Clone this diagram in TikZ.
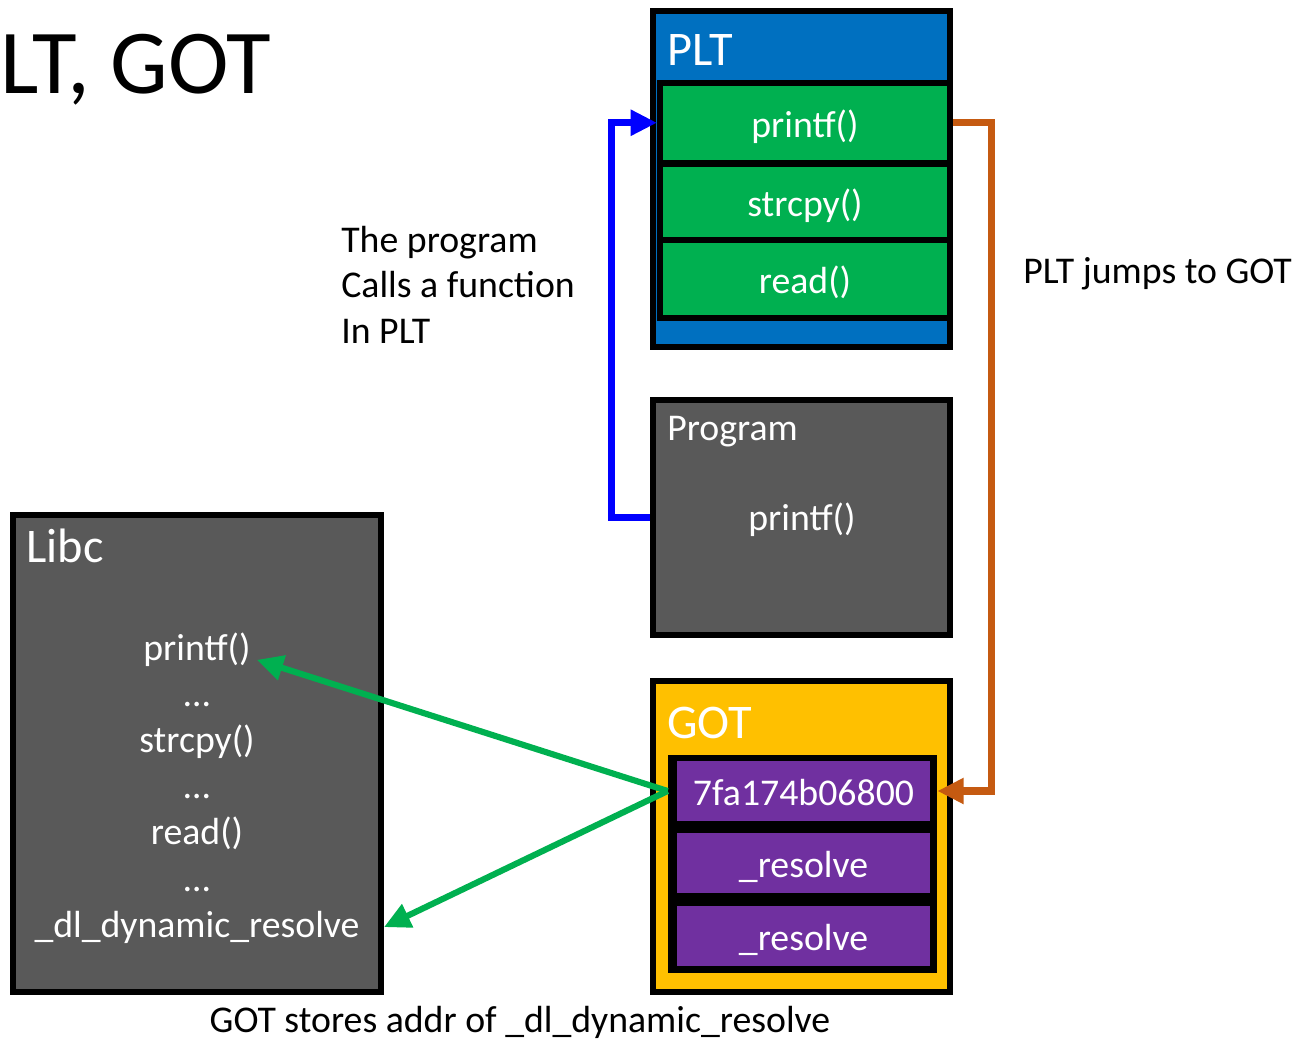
\documentclass[tikz,border=0pt]{standalone}
\usepackage{fontspec}
\setmainfont{Carlito}
\usetikzlibrary{arrows.meta,calc}

\definecolor{pltblue}{HTML}{0070C0}
\definecolor{rowgreen}{HTML}{00B050}
\definecolor{boxgray}{HTML}{595959}
\definecolor{gotgold}{HTML}{FFC000}
\definecolor{slotpurple}{HTML}{7030A0}
\definecolor{jumporange}{HTML}{C55A11}
\definecolor{callblue}{HTML}{0000FF}

\begin{document}
\begin{tikzpicture}[x=0.02cm,y=-0.02cm,
  box/.style={draw=black,line width=3.4pt,inner sep=0pt},
  txt/.style={text=white,font=\fontsize{21.5}{25.8}\selectfont},
  rowtxt/.style={txt,text height=17pt,text depth=0.5pt},
  head/.style={text=white,font=\fontsize{27.5}{33}\selectfont,anchor=base west,inner sep=0pt},
  lbl/.style={font=\fontsize{21.5}{25.8}\selectfont,inner sep=0pt},
  link/.style={line width=4pt,-{Triangle[length=15pt,width=14pt]}}]
\useasboundingbox (0,0) rectangle (1303,1046);

\node[anchor=base west,inner sep=0pt,font=\fontsize{52}{62}\selectfont] (title) at (0,93) {LT, GOT};

% PLT with its three stubs
\node[box,fill=pltblue,minimum width=5.94cm,minimum height=6.72cm] (plt) at (801.5,179) {};
\node[head] at (667,65) {PLT};
\node[box,fill=rowgreen,rowtxt,minimum width=5.8cm,minimum height=1.59cm] (pltprintf) at (805,122.75) {printf()};
\node[box,fill=rowgreen,rowtxt,minimum width=5.8cm,minimum height=1.52cm] (pltstrcpy) at (805,201.5) {strcpy()};
\node[box,fill=rowgreen,rowtxt,minimum width=5.8cm,minimum height=1.56cm] (pltread) at (805,279) {read()};

% program
\node[box,fill=boxgray,minimum width=5.94cm,minimum height=4.7cm] (prog) at (801.5,517.5) {};
\node[head,font=\fontsize{21.5}{25.8}\selectfont] at (667,440) {Program};
\node[txt] (progprintf) at (802,520) {printf()};

% GOT slots
\node[box,fill=gotgold,minimum width=5.94cm,minimum height=6.22cm] (got) at (801.5,836.5) {};
\node[head] at (667,738) {GOT};
\node[fill=black,inner sep=0pt,minimum width=5.38cm,minimum height=4.36cm] (gotslots) at (802.5,864) {};
\node[fill=slotpurple,rowtxt,inner sep=0pt,minimum width=5.06cm,minimum height=1.2cm] (gotaddr) at (803.5,791) {7fa174b06800};
\node[fill=slotpurple,rowtxt,inner sep=0pt,minimum width=5.06cm,minimum height=1.2cm] (gotres1) at (803.5,863) {\_resolve};
\node[fill=slotpurple,rowtxt,inner sep=0pt,minimum width=5.06cm,minimum height=1.2cm] (gotres2) at (803.5,936) {\_resolve};

% libc
\node[box,fill=boxgray,minimum width=7.36cm,minimum height=9.54cm] (libc) at (197,753.5) {};
\node[head] at (26,562) {Libc};
\foreach \name/\entry [count=\i from 0] in {lprintf/printf(),ldotsa/…,lstrcpy/strcpy(),ldotsb/…,lread/read(),ldotsc/…,ldl/\_dl\_dynamic\_resolve}
  \node[txt,anchor=base] (\name) at (197,660+46.2*\i) {\entry};

% captions
\node[lbl,anchor=base west,align=left] (calls) at (341,343) {The program\\Calls a function\\In PLT};
\node[lbl,anchor=base west] (jumps) at (1023,283) {PLT jumps to GOT};
\node[lbl,anchor=base] (stores) at (520,1032) {GOT stores addr of \_dl\_dynamic\_resolve};

% arrows
\draw[link,draw=callblue] (prog.west) -- ++(-39,0) |- (pltprintf.west);
\draw[link,draw=jumporange] (pltprintf.east) -- ++(38.5,0) |- (gotslots.east |- gotaddr);
\draw[link,line width=3.5pt,draw=rowgreen] (gotslots.west |- gotaddr) -- (lprintf.-10);
\draw[link,line width=3.5pt,draw=rowgreen] (gotslots.west |- gotaddr) -- (libc.east |- ldl);
\end{tikzpicture}
\end{document}
